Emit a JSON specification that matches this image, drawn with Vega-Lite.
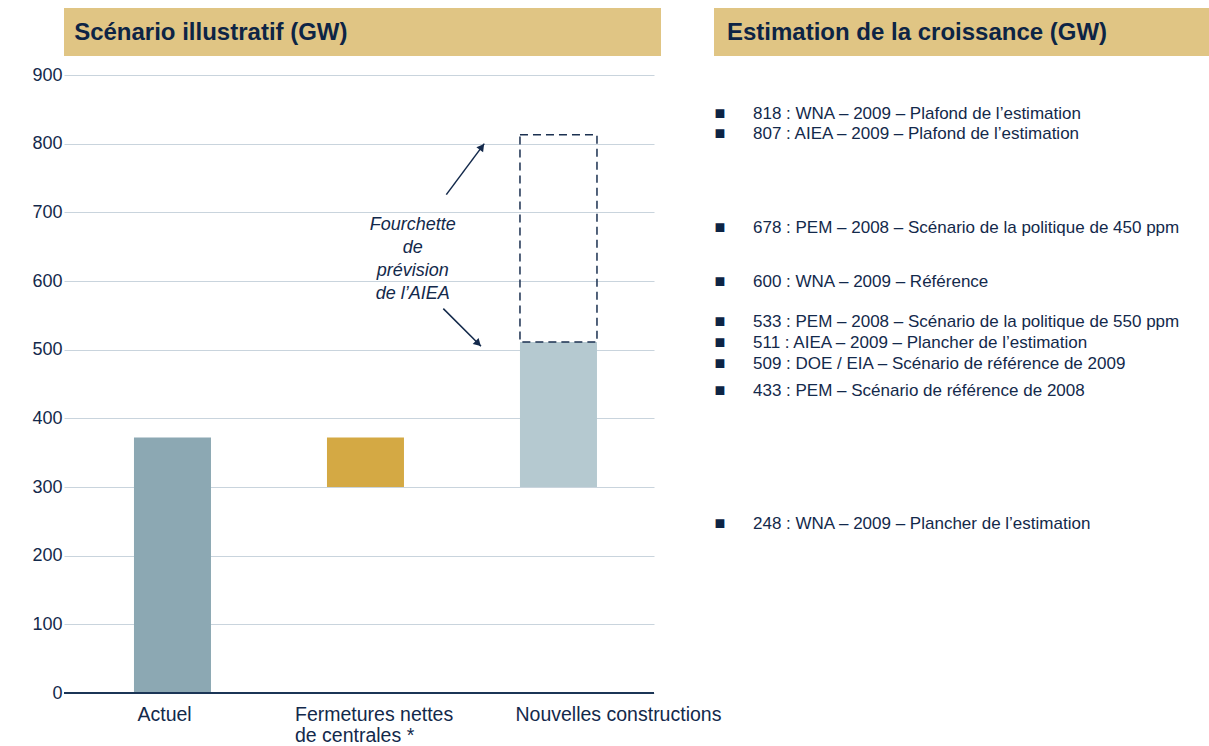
{
  "$schema": "https://vega.github.io/schema/vega-lite/v6.json",
  "padding": {"left": 31, "top": 8, "right": 0, "bottom": 0},
  "background": "white",
  "config": {"font": "Liberation Sans", "view": {"stroke": null}},
  "datasets": {
    "bars": [
      {"cat": "Actuel", "start": 0, "end": 372},
      {"cat": "Fermetures nettes de centrales *", "start": 300, "end": 372},
      {"cat": "Nouvelles constructions", "start": 300, "end": 511}
    ],
    "fourchette": [{"cat": "Nouvelles constructions", "lo": 511, "hi": 813}],
    "fleches": [
      {"ax": 1.4187, "ay": 725.8, "bx": 1.6155, "by": 800.1},
      {"ax": 1.4031, "ay": 559.8, "bx": 1.5984, "by": 504.9}
    ],
    "pointes": [
      {"hx": 1.6032, "hy": 795.4, "which": "haut"},
      {"hx": 1.584, "hy": 509.0, "which": "bas"}
    ],
    "note": [{"note": "Fourchette\nde\nprévision\nde l’AIEA", "nx": 1.245, "ny": 682}],
    "list": [
      {"gw": 818, "label": "818 : WNA – 2009 – Plafond de l’estimation"},
      {"gw": 807, "label": "807 : AIEA – 2009 – Plafond de l’estimation"},
      {"gw": 678, "label": "678 : PEM – 2008 – Scénario de la politique de 450 ppm"},
      {"gw": 600, "label": "600 : WNA – 2009 – Référence"},
      {"gw": 533, "label": "533 : PEM – 2008 – Scénario de la politique de 550 ppm"},
      {"gw": 511, "label": "511 : AIEA – 2009 – Plancher de l’estimation"},
      {"gw": 509, "label": "509 : DOE / EIA – Scénario de référence de 2009"},
      {"gw": 433, "label": "433 : PEM – Scénario de référence de 2008"},
      {"gw": 248, "label": "248 : WNA – 2009 – Plancher de l’estimation"}
    ]
  },
  "columns": 2,
  "align": "each",
  "bounds": "flush",
  "spacing": {"row": 19, "column": 53},
  "concat": [
    {
      "width": 597,
      "height": 48,
      "view": {"fill": "#e0c584", "stroke": null},
      "data": {"values": [{"t": "Scénario illustratif (GW)"}]},
      "mark": {"type": "text", "align": "left", "baseline": "middle", "fontSize": 24, "fontWeight": "bold", "color": "#0d2445", "dy": 1},
      "encoding": {
        "x": {"datum": 1.7, "type": "quantitative", "scale": {"domain": [0, 100]}, "axis": null},
        "text": {"field": "t"}
      }
    },
    {
      "width": 496,
      "height": 48,
      "view": {"fill": "#e0c584", "stroke": null},
      "data": {"values": [{"t": "Estimation de la croissance (GW)"}]},
      "mark": {"type": "text", "align": "left", "baseline": "middle", "fontSize": 24, "fontWeight": "bold", "color": "#0d2445", "dy": 1},
      "encoding": {
        "x": {"datum": 2.62, "type": "quantitative", "scale": {"domain": [0, 100]}, "axis": null},
        "text": {"field": "t"}
      }
    },
    {
      "width": 590,
      "height": 618,
      "layer": [
        {
          "layer": [
            {
              "data": {"name": "bars"},
              "mark": {"type": "bar"},
              "encoding": {
                "x": {
                  "field": "cat", "type": "nominal", "sort": null,
                  "scale": {"domain": ["Actuel", "Fermetures nettes de centrales *", "Nouvelles constructions"], "paddingInner": 0.601, "paddingOuter": 0.329, "align": 0.551},
                  "axis": {
                    "title": null, "domain": false, "ticks": false, "tickSize": 0,
                    "labelPadding": 12, "labelFontSize": 19.5, "labelColor": "#13294b",
                    "labelAngle": 0, "labelAlign": "left", "labelLimit": 0, "labelLineHeight": 21,
                    "labelOffset": {"condition": [
                      {"test": "datum.value == 'Fermetures nettes de centrales *'", "value": -70.5},
                      {"test": "datum.value == 'Nouvelles constructions'", "value": -43}
                    ], "value": -35},
                    "labelExpr": "datum.value == 'Fermetures nettes de centrales *' ? ['Fermetures nettes', 'de centrales *'] : datum.label"
                  }
                },
                "y": {
                  "field": "start", "type": "quantitative", "title": null,
                  "scale": {"domain": [0, 900], "nice": false},
                  "axis": {
                    "title": null, "values": [0, 100, 200, 300, 400, 500, 600, 700, 800, 900],
                    "grid": true, "gridColor": "#c9d4dd", "gridWidth": 1,
                    "domain": false, "ticks": false, "tickSize": 0, "labelPadding": 2,
                    "labelFontSize": 18, "labelColor": "#13294b"
                  }
                },
                "y2": {"field": "end"},
                "color": {
                  "field": "cat", "type": "nominal",
                  "scale": {"domain": ["Actuel", "Fermetures nettes de centrales *", "Nouvelles constructions"], "range": ["#8ca8b3", "#d4a944", "#b5c9d0"]},
                  "legend": null
                }
              }
            },
            {
              "data": {"name": "fourchette"},
              "mark": {"type": "rect", "filled": false, "stroke": "#1b3050", "strokeDash": [8, 5], "strokeWidth": 1.5},
              "encoding": {
                "x": {"field": "cat", "type": "nominal"},
                "y": {"field": "lo", "type": "quantitative", "title": null},
                "y2": {"field": "hi"}
              }
            },
            {
              "data": {"values": [{"base": 0}]},
              "mark": {"type": "rule", "color": "#1b3556", "strokeWidth": 2},
              "encoding": {"y": {"field": "base", "type": "quantitative", "title": null}}
            }
          ]
        },
        {
          "layer": [
            {
              "data": {"name": "fleches"},
              "mark": {"type": "rule", "color": "#13294b", "strokeWidth": 1.5},
              "encoding": {
                "x": {"field": "ax", "type": "quantitative", "scale": {"domain": [-0.5622, 2.4948], "nice": false, "zero": false}, "axis": null},
                "x2": {"field": "bx"},
                "y": {"field": "ay", "type": "quantitative", "title": null},
                "y2": {"field": "by"}
              }
            },
            {
              "data": {"name": "pointes"},
              "transform": [{"filter": "datum.which == 'haut'"}],
              "mark": {"type": "point", "shape": "triangle-up", "filled": true, "opacity": 1, "size": 70, "color": "#13294b", "angle": 37},
              "encoding": {
                "x": {"field": "hx", "type": "quantitative", "scale": {"domain": [-0.5622, 2.4948], "nice": false, "zero": false}, "axis": null},
                "y": {"field": "hy", "type": "quantitative", "title": null}
              }
            },
            {
              "data": {"name": "pointes"},
              "transform": [{"filter": "datum.which == 'bas'"}],
              "mark": {"type": "point", "shape": "triangle-up", "filled": true, "opacity": 1, "size": 70, "color": "#13294b", "angle": 135},
              "encoding": {
                "x": {"field": "hx", "type": "quantitative", "scale": {"domain": [-0.5622, 2.4948], "nice": false, "zero": false}, "axis": null},
                "y": {"field": "hy", "type": "quantitative", "title": null}
              }
            },
            {
              "data": {"name": "note"},
              "mark": {"type": "text", "lineBreak": "\n", "fontStyle": "italic", "fontSize": 18, "lineHeight": 23, "align": "center", "baseline": "middle", "color": "#13294b"},
              "encoding": {
                "x": {"field": "nx", "type": "quantitative", "scale": {"domain": [-0.5622, 2.4948], "nice": false, "zero": false}, "axis": null},
                "y": {"field": "ny", "type": "quantitative", "title": null},
                "text": {"field": "note"}
              }
            }
          ]
        }
      ],
      "resolve": {"scale": {"x": "independent"}, "axis": {"x": "independent"}}
    },
    {
      "width": 496,
      "height": 618,
      "data": {"name": "list"},
      "encoding": {
        "y": {"field": "gw", "type": "quantitative", "scale": {"domain": [0, 900], "nice": false}, "axis": null}
      },
      "layer": [
        {
          "transform": [{"filter": {"field": "gw", "oneOf": [818]}}],
          "layer": [
            {"mark": {"type": "text", "text": "■", "fontSize": 18, "align": "center", "baseline": "middle", "dy": -17, "color": "#0d2445"},
             "encoding": {"x": {"datum": 1.21, "type": "quantitative", "scale": {"domain": [0, 100]}, "axis": null}}},
            {"mark": {"type": "text", "align": "left", "baseline": "middle", "fontSize": 17, "dy": -17, "color": "#13294b"},
             "encoding": {"x": {"datum": 7.86, "type": "quantitative", "scale": {"domain": [0, 100]}, "axis": null}, "text": {"field": "label"}}}
          ]
        },
        {
          "transform": [{"filter": {"field": "gw", "oneOf": [509]}}],
          "layer": [
            {"mark": {"type": "text", "text": "■", "fontSize": 18, "align": "center", "baseline": "middle", "dy": 21, "color": "#0d2445"},
             "encoding": {"x": {"datum": 1.21, "type": "quantitative", "scale": {"domain": [0, 100]}, "axis": null}}},
            {"mark": {"type": "text", "align": "left", "baseline": "middle", "fontSize": 17, "dy": 21, "color": "#13294b"},
             "encoding": {"x": {"datum": 7.86, "type": "quantitative", "scale": {"domain": [0, 100]}, "axis": null}, "text": {"field": "label"}}}
          ]
        },
        {
          "transform": [{"filter": {"field": "gw", "oneOf": [807, 533, 433]}}],
          "layer": [
            {"mark": {"type": "text", "text": "■", "fontSize": 18, "align": "center", "baseline": "middle", "dy": -5, "color": "#0d2445"},
             "encoding": {"x": {"datum": 1.21, "type": "quantitative", "scale": {"domain": [0, 100]}, "axis": null}}},
            {"mark": {"type": "text", "align": "left", "baseline": "middle", "fontSize": 17, "dy": -5, "color": "#13294b"},
             "encoding": {"x": {"datum": 7.86, "type": "quantitative", "scale": {"domain": [0, 100]}, "axis": null}, "text": {"field": "label"}}}
          ]
        },
        {
          "transform": [{"filter": {"field": "gw", "oneOf": [678, 600, 511, 248]}}],
          "layer": [
            {"mark": {"type": "text", "text": "■", "fontSize": 18, "align": "center", "baseline": "middle", "dy": 1, "color": "#0d2445"},
             "encoding": {"x": {"datum": 1.21, "type": "quantitative", "scale": {"domain": [0, 100]}, "axis": null}}},
            {"mark": {"type": "text", "align": "left", "baseline": "middle", "fontSize": 17, "dy": 1, "color": "#13294b"},
             "encoding": {"x": {"datum": 7.86, "type": "quantitative", "scale": {"domain": [0, 100]}, "axis": null}, "text": {"field": "label"}}}
          ]
        }
      ]
    }
  ]
}
